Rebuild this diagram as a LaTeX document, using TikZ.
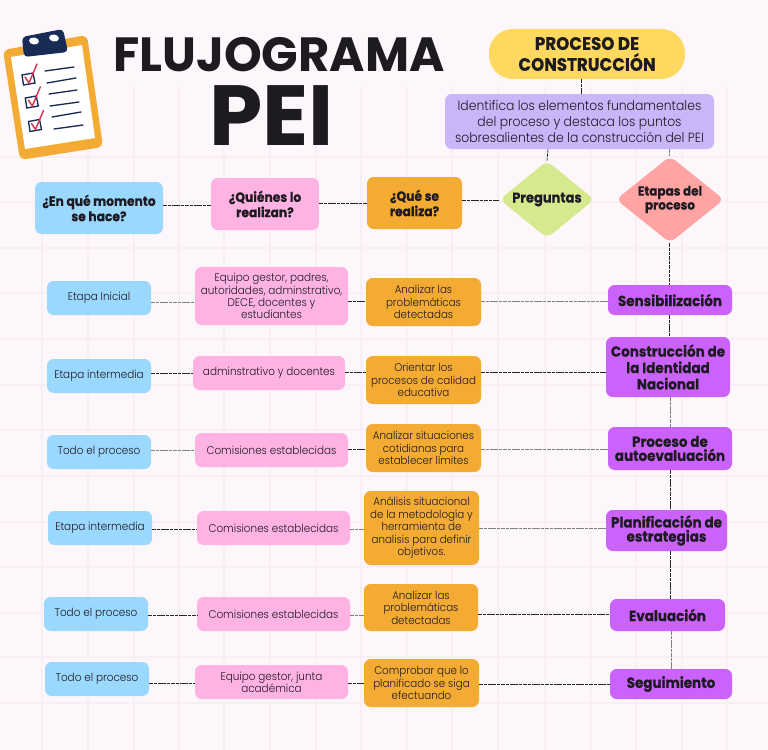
\documentclass[tikz,border=0pt]{standalone}
\usepackage{fontspec}
\setmainfont{Poppins}
\usetikzlibrary{shapes.geometric}
\definecolor{bgc}{HTML}{FDF6FA}
\definecolor{gridc}{HTML}{F7EFF4}
\definecolor{yellowc}{HTML}{FFD95F}
\definecolor{lilac}{HTML}{C9B6F9}
\definecolor{greenc}{HTML}{D6E98F}
\definecolor{redc}{HTML}{FFA3A3}
\definecolor{bluec}{HTML}{9BD8FE}
\definecolor{pinkc}{HTML}{FFB3E3}
\definecolor{orangec}{HTML}{F3AB33}
\definecolor{violetc}{HTML}{CC62FC}
\definecolor{navyc}{HTML}{172B54}
\definecolor{checkc}{HTML}{D8344F}
\definecolor{ink}{HTML}{1E1A22}
\newfontfamily\reg[FakeStretch=0.93]{Poppins Light}
\newfontfamily\hvy[FakeStretch=0.92,FakeBold=0.4]{Poppins Bold}
\newfontfamily\ttl{Poppins Bold}
\tikzset{
 x=0.75pt,y=-0.75pt,
 boxc/.style={inner sep=0pt,align=center,text=ink,rounded corners=5pt},
 lab/.style={font=\reg\fontsize{8.4}{9.2}\selectfont},
 labsm/.style={font=\reg\fontsize{8.3}{9.4}\selectfont},
 head/.style={font=\hvy\fontsize{10}{11.5}\selectfont},
 bluebox/.style={boxc,fill=bluec,lab},
 pinkbox/.style={boxc,fill=pinkc,lab},
 orangebox/.style={boxc,fill=orangec,labsm},
 violetbox/.style={boxc,fill=violetc,font=\hvy\fontsize{11}{10.6}\selectfont},
 conn/.style={draw=black!85,line width=0.55pt,dash pattern=on 2.6pt off 0.7pt},
 conng/.style={draw=black!50,line width=0.75pt,dash pattern=on 2.6pt off 0.7pt},
}
\newcommand{\bx}[7]{\node[#2,minimum width={(#5-#3)*0.75pt},minimum height={(#6-#4)*0.75pt}] (#1) at ({(#3+#5)/2},{(#4+#6)/2}) {#7};}
\begin{document}
\begin{tikzpicture}
\useasboundingbox (0,0) rectangle (768,750);
\fill[bgc] (0,0) rectangle (768,750);
% grid
\foreach \gx in {42,88,134,179,224,270,316,361,407,452,498,545,591,636,682,727}
  \draw[gridc,line width=1pt] (\gx,87) -- (\gx,750);
\foreach \gy in {157,202,248,293,339,385,430,476,522,567,613,657,703}
  \draw[gridc,line width=1pt] (0,\gy) -- (768,\gy);
% clipboard
\fill[orangec,rounded corners=4pt] (3,50) -- (87,35) -- (103,147) -- (20,160) -- cycle;
\fill[white!96!bgc] (11,57) -- (82,45) -- (95,138) -- (25,149) -- cycle;
\fill[navyc,rounded corners=3pt] (22,37) -- (63,29) -- (68,52) -- (24,57) -- cycle;
\fill[white,rotate around={-8:(34,41)}] (34,41) ellipse (5 and 3.5);
\fill[white,rotate around={-8:(54,38)}] (54,38) ellipse (5 and 3.5);
\foreach \ya/\xa/\yb/\xb in {71/45/67/74,83/47/78/76,94/49/90/77,106/50/102/79,117/52/112/81,129/54/125/83}
  \draw[navyc,line width=1pt,line cap=round] (\xa,\ya) -- (\xb,\yb);
\foreach \sx/\sy in {0/0,3.3/23,6.5/46.5}{
  \draw[navyc,line width=1pt] (22+\sx,75+\sy) -- (33+\sx,73+\sy) -- (35+\sx,83+\sy) -- (23.5+\sx,85+\sy) -- cycle;
  \draw[checkc,line width=1.1pt,line cap=round,line join=round] (25+\sx,77+\sy) -- (29+\sx,83+\sy) -- (37+\sx,64+\sy);
}
% title
\node[inner sep=0pt,text=ink] (tituloA) at (279,55) {\ttl\fontsize{36}{36}\selectfont FLUJOGRAMA};
\node[inner sep=0pt,text=ink] (tituloB) at (271.5,116) {\ttl\fontsize{64}{64}\selectfont PEI};
% top boxes
\bx{pill}{boxc,fill=yellowc,rounded corners=18pt,font=\hvy\fontsize{13.6}{15.7}\selectfont}{489}{29}{685}{79}{PROCESO DE\\CONSTRUCCIÓN}
\bx{idea}{boxc,fill=lilac,font=\reg\fontsize{10}{12}\selectfont}{445}{94}{714}{149}{Identifica los elementos fundamentales\\del proceso y destaca los puntos\\sobresalientes de la construcción del PEI}
\node[diamond,boxc,fill=greenc,font=\hvy\fontsize{10.6}{12}\selectfont,minimum width=71pt,minimum height=58pt,aspect=1.2] (preg) at (547,199.5) {Preguntas};
\node[diamond,boxc,fill=redc,font=\hvy\fontsize{9.8}{10.5}\selectfont,minimum width=81pt,minimum height=65pt,aspect=1.2] (etap) at (670,199.5) {Etapas del\\proceso};
\bx{hA}{boxc,fill=bluec,head}{35}{182}{163}{234}{¿En qué momento\\se hace?}
\bx{hB}{boxc,fill=pinkc,head}{211}{178}{319}{230}{¿Quiénes lo\\realizan?}
\bx{hC}{boxc,fill=orangec,head}{367}{177}{462}{229}{¿Qué se\\realiza?}
% row 1
\bx{a1}{bluebox}{47}{281}{151}{315}{Etapa Inicial}
\bx{b1}{pinkbox}{195}{267}{348}{325}{Equipo gestor, padres,\\autoridades, adminstrativo,\\DECE, docentes y\\estudiantes}
\bx{c1}{orangebox}{366}{278}{481}{326}{Analizar las\\problemáticas\\detectadas}
\bx{d1}{violetbox}{608}{285}{732}{315}{Sensibilización}
% row 2
\bx{a2}{bluebox}{47}{359}{151}{393}{Etapa intermedia}
\bx{b2}{pinkbox}{193}{356}{345}{390}{adminstrativo y docentes}
\bx{c2}{orangebox}{366}{356}{481}{404}{Orientar los\\procesos de calidad\\educativa}
\bx{d2}{violetbox,font=\hvy\fontsize{11}{12.3}\selectfont}{606}{337}{730}{397}{Construcción de\\la Identidad\\Nacional}
% row 3
\bx{a3}{bluebox}{47}{435}{151}{469}{Todo el proceso}
\bx{b3}{pinkbox}{195}{433}{348}{467}{Comisiones establecidas}
\bx{c3}{orangebox}{366}{424}{481}{472}{Analizar situaciones\\cotidianas para\\establecer límites}
\bx{d3}{violetbox}{608}{427}{732}{470}{Proceso de\\autoevaluación}
% row 4
\bx{a4}{bluebox}{48}{511}{152}{545}{Etapa intermedia}
\bx{b4}{pinkbox}{197}{511}{350}{545}{Comisiones establecidas}
\bx{c4}{orangebox}{364}{491}{479}{565}{Análisis situacional\\de la metodología y\\herramienta de\\analisis para definir\\objetivos.}
\bx{d4}{violetbox}{606}{510}{727}{551}{Planificación de\\estrategias}
% row 5
\bx{a5}{bluebox}{44}{597}{148}{631}{Todo el proceso}
\bx{b5}{pinkbox}{197}{597}{350}{631}{Comisiones establecidas}
\bx{c5}{orangebox}{364}{584}{478}{631}{Analizar las\\problemáticas\\detectadas}
\bx{d5}{violetbox}{610}{599}{725}{631}{Evaluación}
% row 6
\bx{a6}{bluebox}{45}{662}{149}{696}{Todo el proceso}
\bx{b6}{pinkbox}{195}{665}{348}{699}{Equipo gestor, junta\\académica}
\bx{c6}{orangebox}{364}{659}{479}{707}{Comprobar que lo\\planificado se siga\\efectuando}
\bx{d6}{violetbox}{610}{669}{732}{699}{Seguimiento}
% connectors: vertical
\draw[conn] (pill.south -| 581,0) -- (idea.north -| 581,0);
\draw[conn] (idea.south -| 548,0) -- (preg.north);
\draw[conng] (idea.south -| 669,0) -- (etap.north -| 669,0);
\draw[conn] (etap.south -| 669,0) -- (d1.north -| 669,0);
\draw[conn] (d1.south -| 669,0) -- (d2.north -| 669,0);
\draw[conng] (d2.south -| 670,0) -- (d3.north -| 670,0);
\draw[conn] (d3.south -| 670,0) -- (d4.north -| 670,0);
\draw[conn] (d4.south -| 670,0) -- (d5.north -| 670,0);
\draw[conng] (d5.south -| 671,0) -- (d6.north -| 671,0);
% connectors: header
\draw[conn] (hC.east |- 0,200) -- (preg.west |- 0,200);
\draw[conn] (hB.east |- 0,203) -- (hC.west |- 0,203);
\draw[conn] (hA.east |- 0,205) -- (hB.west |- 0,205);
% connectors: rows
\draw[conng] (a1.east |- 0,302) -- (b1.west |- 0,302);
\draw[conn] (b1.east |- 0,301) -- (c1.west |- 0,301);
\draw[conng] (c1.east |- 0,301) -- (d1.west |- 0,301);
\draw[conn] (a2.east |- 0,373) -- (b2.west |- 0,373);
\draw[conn] (b2.east |- 0,372) -- (c2.west |- 0,372);
\draw[conn] (c2.east |- 0,372) -- (d2.west |- 0,372);
\draw[conng] (a3.east |- 0,450) -- (b3.west |- 0,450);
\draw[conn] (b3.east |- 0,449) -- (c3.west |- 0,449);
\draw[conng] (c3.east |- 0,449) -- (d3.west |- 0,449);
\draw[conn] (a4.east |- 0,529) -- (b4.west |- 0,529);
\draw[conng] (b4.east |- 0,529) -- (c4.west |- 0,529);
\draw[conng] (c4.east |- 0,528) -- (d4.west |- 0,528);
\draw[conn] (a5.east |- 0,615) -- (b5.west |- 0,615);
\draw[conng] (b5.east |- 0,615) -- (c5.west |- 0,615);
\draw[conn] (c5.east |- 0,614) -- (d5.west |- 0,614);
\draw[conn] (a6.east |- 0,683) -- (b6.west |- 0,683);
\draw[conn] (b6.east |- 0,683) -- (c6.west |- 0,683);
\draw[conn] (c6.east |- 0,684) -- (d6.west |- 0,684);
\end{tikzpicture}
\end{document}
